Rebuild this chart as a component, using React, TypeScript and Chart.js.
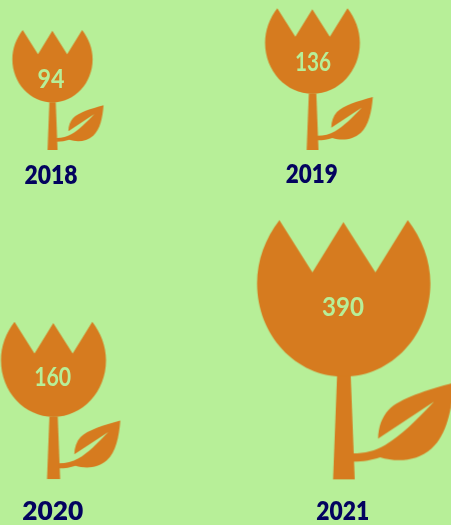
import React, { useEffect, useRef } from "react";
import { Chart, registerables } from "chart.js";

Chart.register(...registerables);

const years = ["2018", "2019", "2020", "2021"];
const values = [94, 136, 160, 390];

// Layout lookups (percent of the plot)
const baseXPct = [11.64, 69.29, 11.86, 76.21];
const baseYPct = [28.57, 28.57, 91.24, 91.3];
const tulipScale = [0.463, 0.547, 0.606, 1];
const valueLift = [71, 88, 102, 172];
const valueNudge = [-1.5, 0.5, -0.8, -0.7];
const valueWidth = [27, 36, 37, 42];
const yearDrop = [25, 24, 32, 32];
const yearNudge = [-1.5, -0.8, -0.8, -1];
const yearWidth = [53, 52, 61, 53];

const BG = "#B7EF98";
const ORANGE = "#D67B1F";
const NAVY = "#03035F";

function makeTulip(s: number): HTMLCanvasElement {
  const c = document.createElement("canvas");
  c.width = Math.round(s * 400) * 2;
  c.height = Math.round(s * 270) * 2;
  const g = c.getContext("2d")!;
  g.translate(c.width / 2, c.height / 2);
  g.scale(s / 3, s / 3);
  g.translate(-281, -808);
  g.fillStyle = ORANGE;

  // Flower head
  g.beginPath();
  g.moveTo(88, 30);
  g.lineTo(187, 187);
  g.lineTo(280, 36);
  g.lineTo(376, 187);
  g.lineTo(473, 30);
  g.bezierCurveTo(515, 85, 541, 150, 541, 220);
  g.bezierCurveTo(541, 375, 425, 500, 281, 500);
  g.bezierCurveTo(137, 500, 21, 375, 21, 220);
  g.bezierCurveTo(21, 150, 46, 85, 88, 30);
  g.closePath();
  g.fill();

  // Stem
  g.beginPath();
  g.moveTo(261, 498);
  g.lineTo(302, 498);
  g.lineTo(314, 808);
  g.lineTo(249, 808);
  g.closePath();
  g.fill();

  // Leaf with slit and twig
  g.beginPath();
  g.moveTo(612, 518);
  g.bezierCurveTo(530, 540, 450, 565, 415, 600);
  g.bezierCurveTo(395, 622, 385, 650, 384, 686);
  g.lineTo(552, 575);
  g.bezierCurveTo(500, 630, 450, 680, 405, 705);
  g.bezierCurveTo(375, 722, 345, 730, 308, 730);
  g.lineTo(308, 755);
  g.bezierCurveTo(340, 755, 365, 750, 390, 742);
  g.bezierCurveTo(440, 757, 500, 755, 545, 715);
  g.bezierCurveTo(590, 675, 605, 600, 612, 518);
  g.closePath();
  g.fill();
  return c;
}

const labelPlugin = {
  id: "tulipLabels",
  afterDatasetsDraw(chart: any) {
    const { ctx } = chart;
    const pts = chart.getDatasetMeta(0).data;
    ctx.save();
    ctx.textAlign = "center";
    ctx.textBaseline = "middle";
    pts.forEach((p: any, i: number) => {
      ctx.fillStyle = BG;
      ctx.font = 'bold 27px "Lato"';
      ctx.fillText(String(values[i]), p.x + valueNudge[i], p.y - valueLift[i], valueWidth[i]);
      ctx.fillStyle = NAVY;
      ctx.font = '800 27px "Lato"';
      ctx.fillText(years[i], p.x + yearNudge[i], p.y + yearDrop[i], yearWidth[i]);
    });
    ctx.restore();
  },
};

const backgroundPlugin = {
  id: "pageFill",
  beforeDraw(chart: any) {
    const { ctx, width, height } = chart;
    ctx.save();
    ctx.fillStyle = BG;
    ctx.fillRect(0, 0, width, height);
    ctx.restore();
  },
};

export default function App() {
  const ref = useRef<HTMLCanvasElement>(null);
  useEffect(() => {
    const images = tulipScale.map(makeTulip);
    const chart = new Chart(ref.current!, {
      type: "scatter",
      data: {
        labels: years,
        datasets: [
          {
            label: "Value",
            data: values.map((v, i) => ({ x: baseXPct[i], y: baseYPct[i], value: v })),
            pointStyle: images as any,
            pointRadius: 5,
            clip: false as any,
          },
        ],
      },
      options: {
        animation: false,
        responsive: false,
        layout: { padding: 0, autoPadding: false },
        plugins: { legend: { display: false }, tooltip: { enabled: false } },
        scales: {
          x: { type: "linear", min: 0, max: 100, display: false },
          y: { type: "linear", min: 0, max: 100, reverse: true, display: false },
        },
      },
      plugins: [backgroundPlugin, labelPlugin],
    });
    return () => chart.destroy();
  }, []);
  return (
    <div style={{ position: "fixed", left: 0, top: 0, width: 451, height: 525, overflow: "hidden" }}>
      <canvas ref={ref} width={451} height={525} style={{ display: "block" }} />
    </div>
  );
}
